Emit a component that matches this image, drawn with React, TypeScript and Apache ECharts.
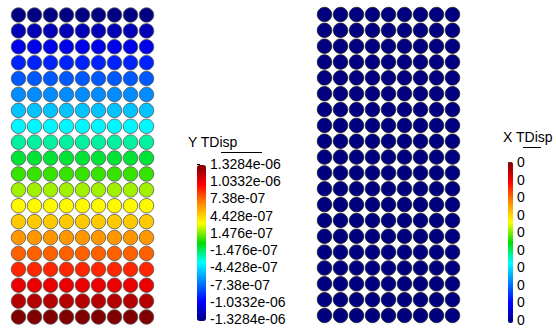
import React, { useEffect, useRef } from "react";
import * as echarts from "echarts";

// Row values (top row to bottom row) of the Y TDisp field, 9 nodes per row
const columns = [0, 1, 2, 3, 4, 5, 6, 7, 8];
const yDispRows = [
  -1.3284e-6, -1.1886e-6, -1.0487e-6, -9.089e-7, -7.691e-7, -6.292e-7, -4.894e-7,
  -3.496e-7, -2.097e-7, -6.99e-8, 6.99e-8, 2.097e-7, 3.496e-7, 4.894e-7, 6.292e-7,
  7.691e-7, 9.089e-7, 1.0487e-6, 1.1886e-6, 1.3284e-6,
];
const xDispRows = [0, 0, 0, 0, 0, 0, 0, 0, 0, 0, 0, 0, 0, 0, 0, 0, 0, 0, 0, 0];

const yTickLabels = [
  "1.3284e-06", "1.0332e-06", "7.38e-07", "4.428e-07", "1.476e-07",
  "-1.476e-07", "-4.428e-07", "-7.38e-07", "-1.0332e-06", "-1.3284e-06",
];
const xTickLabels = ["0", "0", "0", "0", "0", "0", "0", "0", "0", "0"];

const yRange = [-1.3284e-6, 1.3284e-6];
const xRange = [0, 1];

const rainbow = [
  "#000080", "#0000ff", "#0080ff", "#00ffff", "#00dd00",
  "#ffff00", "#ff8c00", "#ff0000", "#800000",
];

const FONT = "Liberation Sans, Arial, sans-serif";

function buildData(rows: number[]) {
  const out: number[][] = [];
  rows.forEach((v, r) => {
    columns.forEach((c) => out.push([c, r, v]));
  });
  return out;
}

export default function App() {
  const ref = useRef<HTMLDivElement>(null);
  useEffect(() => {
    if (!ref.current) return;
    const chart = echarts.init(ref.current, null, { renderer: "svg" });
    const hiddenX = (gridIndex: number, max: number) => ({
      type: "value", gridIndex, min: 0, max, show: false,
    });
    const hiddenY = (gridIndex: number, max: number) => ({
      type: "value", gridIndex, min: 0, max, inverse: true, show: false,
    });
    const labelY = (gridIndex: number, labels: string[], size: number) => ({
      type: "value",
      gridIndex,
      min: 0,
      max: 9,
      interval: 1,
      position: "right",
      splitLine: { show: false },
      axisLine: { show: false },
      axisTick: { show: true, length: 3, lineStyle: { color: "#000", width: 1 } },
      axisLabel: {
        margin: 4,
        color: "#000",
        fontSize: size,
        fontFamily: FONT,
        formatter: (v: number) => labels[9 - Math.round(v)],
      },
    });
    chart.setOption({
      animation: false,
      backgroundColor: "#fff",
      grid: [
        { left: 18.5, top: 15, width: 128, height: 302 },
        { left: 324.5, top: 14.5, width: 128, height: 301 },
        { left: 197, top: 164, width: 9, height: 155 },
        { left: 508, top: 162, width: 5, height: 158 },
      ],
      xAxis: [hiddenX(0, 8), hiddenX(1, 8), hiddenX(2, 1), hiddenX(3, 1)],
      yAxis: [
        hiddenY(0, 19),
        hiddenY(1, 19),
        labelY(2, yTickLabels, 14),
        labelY(3, xTickLabels, 14),
      ],
      visualMap: [
        {
          type: "continuous",
          seriesIndex: 0,
          dimension: 2,
          min: yRange[0],
          max: yRange[1],
          inRange: { color: rainbow },
          calculable: false,
          left: 197,
          top: 165,
          itemWidth: 9,
          itemHeight: 156,
          padding: 0,
          text: null,
          showLabel: false,
          hoverLink: false,
        },
        {
          type: "continuous",
          seriesIndex: 1,
          dimension: 2,
          min: xRange[0],
          max: xRange[1],
          inRange: { color: rainbow },
          calculable: false,
          left: 508,
          top: 162,
          itemWidth: 5,
          itemHeight: 161,
          padding: 0,
          text: null,
          showLabel: false,
          hoverLink: false,
        },
      ],
      graphic: [
        {
          type: "text",
          left: 188,
          top: 135,
          style: { text: "Y TDisp", fontSize: 14, fontFamily: FONT, fill: "#000" },
        },
        {
          type: "line",
          shape: { x1: 221, y1: 152.5, x2: 262, y2: 152.5 },
          style: { stroke: "#000", lineWidth: 1 },
        },
        {
          type: "text",
          left: 503,
          top: 130,
          style: { text: "X TDisp", fontSize: 14, fontFamily: FONT, fill: "#000" },
        },
        {
          type: "line",
          shape: { x1: 523, y1: 147.5, x2: 541, y2: 147.5 },
          style: { stroke: "#000", lineWidth: 1 },
        },
      ],
      series: [
        {
          type: "scatter",
          xAxisIndex: 0,
          yAxisIndex: 0,
          symbolSize: 14.5,
          data: buildData(yDispRows),
          itemStyle: { borderColor: "#555", borderWidth: 0.8, opacity: 1 },
          silent: true,
        },
        {
          type: "scatter",
          xAxisIndex: 1,
          yAxisIndex: 1,
          symbolSize: 14.5,
          data: buildData(xDispRows),
          itemStyle: { borderColor: "#222", borderWidth: 0.8, opacity: 1 },
          silent: true,
        },
      ],
    });
    return () => chart.dispose();
  }, []);
  return (
    <div
      ref={ref}
      style={{ position: "fixed", left: 0, top: 0, width: 556, height: 333 }}
    />
  );
}
